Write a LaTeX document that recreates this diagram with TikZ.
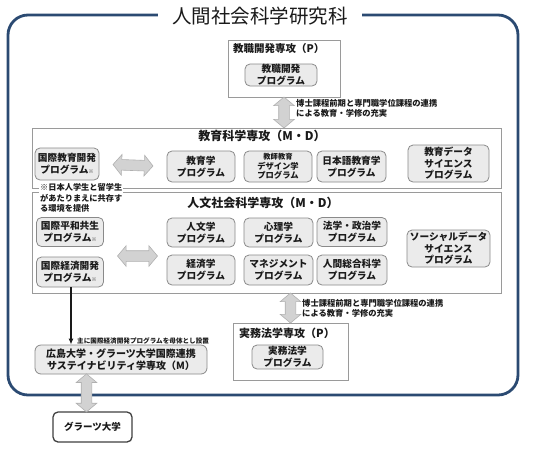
\documentclass[tikz,border=0pt]{standalone}
\usepackage{fontspec}
\setmainfont{Noto Sans CJK JP}
\usetikzlibrary{shapes.arrows,arrows.meta}
\definecolor{framec}{HTML}{2B4A72}
\definecolor{progfill}{HTML}{EBEBEB}
\definecolor{progdraw}{HTML}{8A8A8A}
\definecolor{sectdraw}{HTML}{9A9A9A}
\definecolor{arrfill}{HTML}{D2D2D2}
\definecolor{arrdraw}{HTML}{B0B0B0}
\definecolor{ink}{HTML}{1A1A1A}
\newcommand\komemark{{\fontsize{5}{5}\selectfont ※}}
\begin{document}
\begin{tikzpicture}[x=1pt,y=-1pt,
  sect/.style={draw=sectdraw, fill=white, line width=0.8pt, inner sep=0pt},
  prog/.style={draw=progdraw, fill=progfill, rounded corners=5pt, line width=0.8pt, inner sep=0pt, align=center, text=ink, font=\bfseries\fontsize{9.7}{11.7}\selectfont},
  progs/.style={prog, font=\bfseries\fontsize{8.3}{9.6}\selectfont},
  sectitle/.style={text=ink, inner sep=0pt, font=\bfseries\fontsize{12}{14}\selectfont},
  note/.style={text=ink, inner sep=1pt, align=left, anchor=north west},
  darrow/.style={double arrow, fill=arrfill, draw=arrdraw, line width=0.6pt, inner xsep=0pt, inner ysep=5pt, double arrow head extend=5pt, double arrow tip angle=100}
]
\useasboundingbox[fill=white] (0,0) rectangle (533,448);

% outer frame and title
\draw[framec, line width=2.8pt, rounded corners=20pt] (8,15) rectangle (518,395);
\node[fill=white, inner xsep=14pt, inner ysep=2pt, text=ink, font=\fontsize{19.5}{22}\selectfont] (title) at (260,16) {人間社会科学研究科};

% 教職開発専攻
\node[sect, minimum width=112pt, minimum height=57pt] (kyo) at (284,68.5) {};
\node[text=ink, anchor=west, inner sep=0pt, font=\bfseries\fontsize{10.5}{12}\selectfont] (kyot) at (233,49) {教職開発専攻（P）};
\node[prog, minimum width=72pt, minimum height=22pt] (kyop) at (281,75) {教職開発\\プログラム};

% 教育科学専攻
\node[sect, minimum width=469pt, minimum height=60pt] (edu) at (266.5,158) {};
\node[sectitle] (edut) at (262,136) {教育科学専攻（M・D）};
\node[prog, minimum width=64pt, minimum height=32pt] (ekd) at (67,164) {国際教育開発\\プログラム\komemark};
\node[prog, minimum width=68pt, minimum height=31pt] (ekg) at (201,166.5) {教育学\\プログラム};
\node[progs, minimum width=68pt, minimum height=31pt] (ekk) at (278,166.5) {{\fontsize{7.3}{8.5}\selectfont 教師教育}\\デザイン学\\プログラム};
\node[prog, minimum width=69pt, minimum height=31pt] (enk) at (351.5,166.5) {日本語教育学\\プログラム};
\node[prog, minimum width=81pt, minimum height=37pt] (eds) at (448.5,163.5) {教育データ\\サイエンス\\プログラム};

% 人文社会科学専攻
\node[sect, minimum width=469pt, minimum height=101pt] (hum) at (266.5,242.5) {};
\node[sectitle] (humt) at (263,203) {人文社会科学専攻（M・D）};
\node[prog, minimum width=67pt, minimum height=29pt] (hkh) at (70,232) {国際平和共生\\プログラム\komemark};
\node[prog, minimum width=67pt, minimum height=30pt] (hke) at (70,272) {国際経済開発\\プログラム\komemark};
\node[prog, minimum width=68pt, minimum height=29pt] (hjb) at (201,232.5) {人文学\\プログラム};
\node[prog, minimum width=69pt, minimum height=29pt] (hsr) at (278.5,232.5) {心理学\\プログラム};
\node[prog, minimum width=70pt, minimum height=29pt] (hhs) at (352,232) {法学・政治学\\プログラム};
\node[prog, minimum width=68pt, minimum height=30pt] (hkz) at (201,270) {経済学\\プログラム};
\node[prog, minimum width=69pt, minimum height=30pt] (hmg) at (278.5,270) {マネジメント\\プログラム};
\node[prog, minimum width=70pt, minimum height=30pt] (hns) at (352,270) {人間総合科学\\プログラム};
\node[prog, minimum width=83pt, minimum height=37pt] (hsd) at (448.5,248.5) {ソーシャルデータ\\サイエンス\\プログラム};

% annotation over the boundary
\node[note, fill=white, font=\bfseries\fontsize{8.2}{10.3}\selectfont] (ann) at (39,182.5) {※日本人学生と留学生\\があたりまえに共存す\\る環境を提供};

% horizontal double arrows
\path (ekd.east) -- (ekg.west) node[midway, darrow, sloped, minimum height=40pt] (ha1) {};
\coordinate (ha2c) at (137.5,256);
\node[darrow, minimum height=40pt] (ha2) at (ha2c) {};

% 実務法学専攻
\node[sect, minimum width=115pt, minimum height=57pt] (jit) at (290.5,351.5) {};
\node[text=ink, anchor=west, inner sep=0pt, font=\bfseries\fontsize{11}{13}\selectfont] (jitt) at (239,333) {実務法学専攻（P）};
\node[prog, minimum width=71pt, minimum height=24pt] (jitp) at (287.5,357) {実務法学\\プログラム};

% vertical double arrows between sections
\path (kyo.south) -- (kyo.south |- edu.north) node[midway, darrow, sloped, minimum height=31pt] (va1) {};
\path (jit.north |- hum.south) -- (jit.north) node[midway, darrow, sloped, minimum height=30pt] (va2) {};
\node[note, font=\bfseries\fontsize{8.3}{10.5}\selectfont] (t1) at (295,98) {博士課程前期と専門職学位課程の連携\\による教育・学修の充実};
\node[note, font=\bfseries\fontsize{8.3}{10.5}\selectfont] (t2) at (301,298) {博士課程前期と専門職学位課程の連携\\による教育・学修の充実};

% 広島大学・グラーツ大学
\node[prog, rounded corners=6pt, minimum width=172pt, minimum height=29pt, font=\bfseries\fontsize{10}{12}\selectfont] (hiro) at (121,359.5) {広島大学・グラーツ大学国際連携\\サステイナビリティ学専攻（M）};
\draw[ink, line width=1.3pt, -{Latex[length=6pt,width=5pt]}] (hke.south -| 71,0) -- (hiro.north -| 71,0);
\node[anchor=west, text=ink, inner sep=0pt, font=\bfseries\fontsize{6.6}{8}\selectfont] (t3) at (77,341) {主に国際経済開発プログラムを母体とし設置};

% グラーツ大学
\node[draw=black!75, fill=white, line width=1.3pt, rounded corners=5pt, minimum width=79pt, minimum height=30pt, text=ink, font=\bfseries\fontsize{9.5}{11}\selectfont] (graz) at (92.5,427) {グラーツ大学};
\path ([xshift=-6pt]graz.north |- hiro.south) -- ([xshift=-6pt]graz.north) node[midway, darrow, sloped, minimum height=38pt] (va3) {};
\end{tikzpicture}
\end{document}
